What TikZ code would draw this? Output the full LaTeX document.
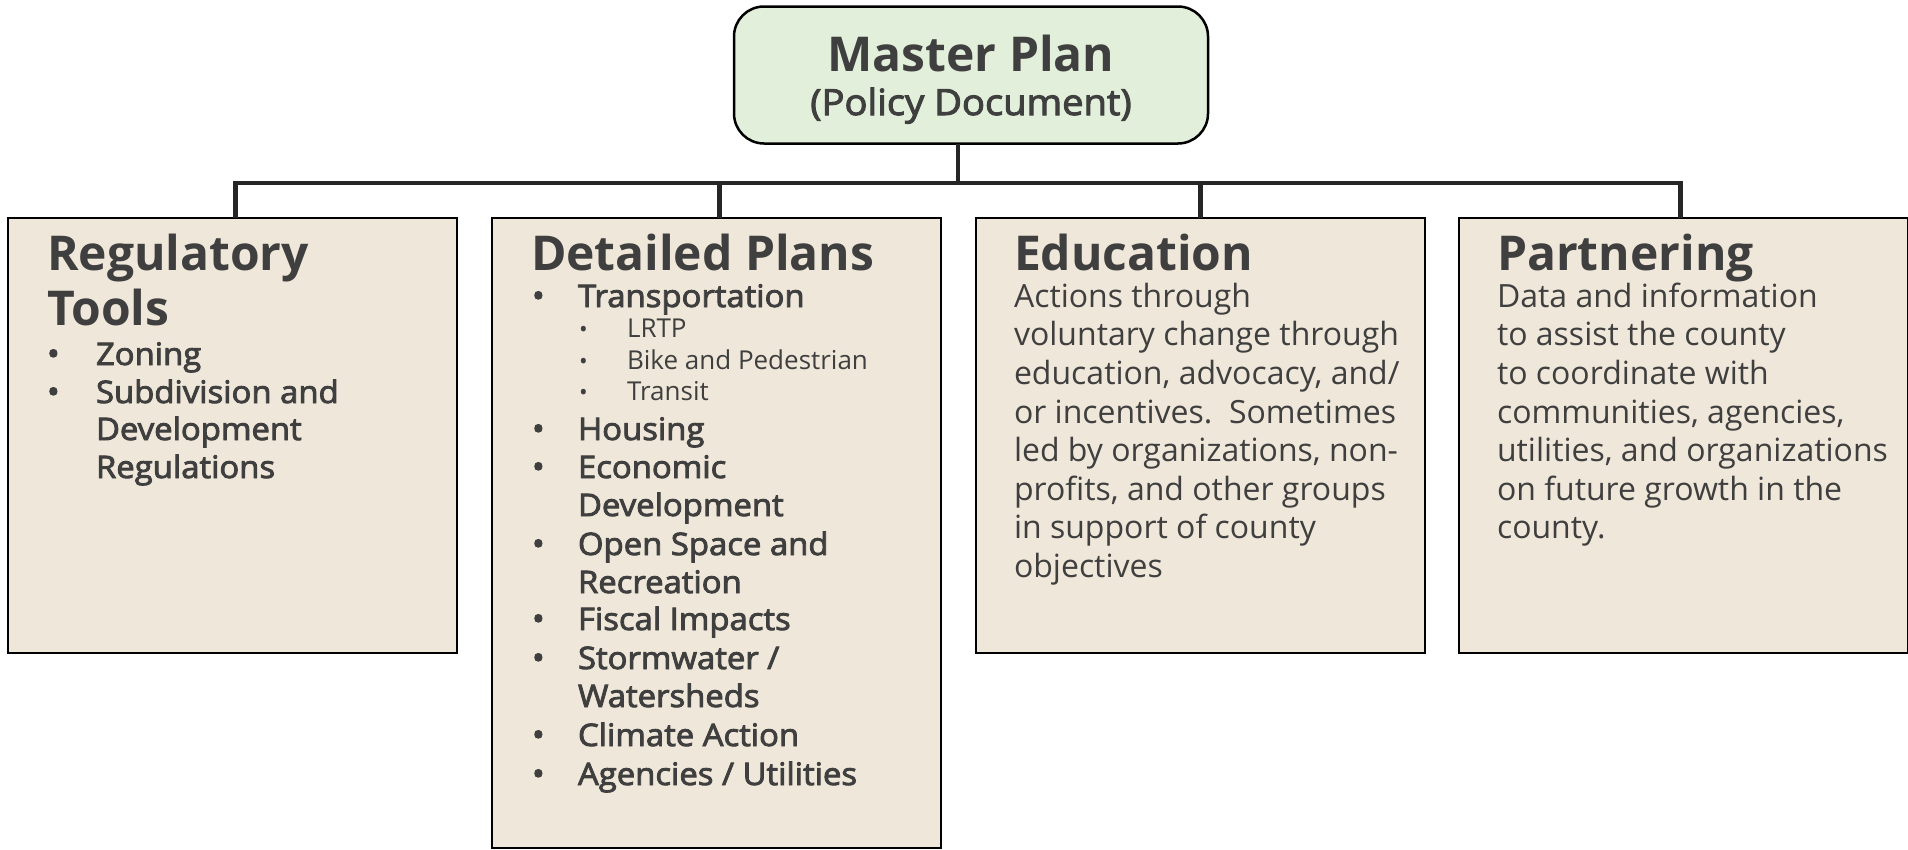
\documentclass[tikz,border=0pt]{standalone}
\usepackage{fontspec}
\setmainfont{Open Sans}
\newfontfamily\semib{Open Sans}[FakeBold=2.8, FakeStretch=1.06]
\definecolor{ink}{HTML}{3F3F3F}
\definecolor{greenfill}{HTML}{E2EFDA}
\definecolor{beige}{HTML}{EFE7D9}
\definecolor{linegray}{HTML}{262626}
\tikzset{
  every node/.style={inner sep=0pt, outer sep=0pt, text=ink},
  masterbox/.style={draw=black, line width=2.5pt, fill=greenfill, rounded corners=30pt,
    minimum width=474pt, minimum height=137pt},
  branchbox/.style={draw=black, line width=2.5pt, fill=beige, minimum width=449pt, anchor=north west},
  conn/.style={draw=linegray, line width=4.5pt},
  hd/.style={anchor=base west, font=\fontsize{48}{55}\selectfont\bfseries},
  item/.style={anchor=base west, font=\fontsize{31}{38}\semib},
  sub/.style={anchor=base west, font=\fontsize{26}{30}\selectfont},
  body/.style={anchor=base west, font=\fontsize{32}{38}\selectfont},
  dot/.style={anchor=base west, font=\fontsize{32}{38}\semib},
  subdot/.style={anchor=base west, font=\fontsize{23}{30}\selectfont},
}
\begin{document}
\begin{tikzpicture}[x=1pt,y=-1pt]
\useasboundingbox (0,0) rectangle (1908,849);

% top box
\node[masterbox] (mp) at (971,75) {};
\node[anchor=base, font=\fontsize{48}{54}\selectfont\bfseries] (mpA) at (971,71) {Master Plan};
\node[anchor=base, font=\fontsize{36}{40}\semib] (mpB) at (971,115) {(Policy Document)};

% branch boxes
\node[branchbox, minimum height=435pt] (reg) at (8,218) {};
\node[branchbox, minimum height=630pt] (det) at (492,218) {};
\node[branchbox, minimum height=435pt] (edu) at (976,218) {};
\node[branchbox, minimum height=435pt] (part) at (1459,218) {};

% connectors
\coordinate (tr) at (958,183);
\draw[conn] (mp.south -| tr) -- (tr);
\draw[conn] ([xshift=3pt]reg.north) -- ([xshift=3pt]reg.north |- tr)
  -- ([xshift=-3pt]part.north |- tr) -- ([xshift=-3pt]part.north);
\draw[conn] ([xshift=3pt]det.north) -- ([xshift=3pt]det.north |- tr);
\draw[conn] (edu.north) -- (edu.north |- tr);

% Regulatory Tools
\node[hd] (regH1) at (47,270) {Regulatory};
\node[hd] (regH2) at (47,325) {Tools};
\node[dot] (regD1) at (47,365) {•};
\node[item] (regI1) at (96,365) {Zoning};
\node[dot] (regD2) at (47,403) {•};
\node[item] (regI2) at (96,403) {Subdivision and};
\node[item] (regI3) at (96,440) {Development};
\node[item] (regI4) at (96,478) {Regulations};

% Detailed Plans
\node[hd] (detH) at (531,270) {Detailed Plans};
\node[dot] (detD1) at (532,307) {•};
\node[item] (detI1) at (578,307) {Transportation};
\node[subdot] (detS1d) at (579,337) {•};
\node[sub] (detS1) at (627,337) {LRTP};
\node[subdot] (detS2d) at (579,369) {•};
\node[sub] (detS2) at (627,369) {Bike and Pedestrian};
\node[subdot] (detS3d) at (579,400) {•};
\node[sub] (detS3) at (627,400) {Transit};
\node[dot] (detD2) at (532,440) {•};
\node[item] (detI2) at (578,440) {Housing};
\node[dot] (detD3) at (532,478) {•};
\node[item] (detI3) at (578,478) {Economic};
\node[item] (detI3b) at (578,516) {Development};
\node[dot] (detD4) at (532,555) {•};
\node[item] (detI4) at (578,555) {Open Space and};
\node[item] (detI4b) at (578,593) {Recreation};
\node[dot] (detD5) at (532,630) {•};
\node[item] (detI5) at (578,630) {Fiscal Impacts};
\node[dot] (detD6) at (532,669) {•};
\node[item] (detI6) at (578,669) {Stormwater /};
\node[item] (detI6b) at (578,707) {Watersheds};
\node[dot] (detD7) at (532,746) {•};
\node[item] (detI7) at (578,746) {Climate Action};
\node[dot] (detD8) at (532,785) {•};
\node[item] (detI8) at (578,785) {Agencies / Utilities};

% Education
\node[hd] (eduH) at (1014,270) {Education};
\node[body] (eduL1) at (1014,307) {Actions through};
\node[body] (eduL2) at (1014,345) {voluntary change through};
\node[body] (eduL3) at (1014,384) {education, advocacy, and/};
\node[body] (eduL4) at (1014,423) {or incentives.\ \ Sometimes};
\node[body] (eduL5) at (1014,461) {led by organizations, non-};
\node[body] (eduL6) at (1014,500) {profits, and other groups};
\node[body] (eduL7) at (1014,538) {in support of county};
\node[body] (eduL8) at (1014,577) {objectives};

% Partnering
\node[hd] (partH) at (1497,270) {Partnering};
\node[body] (partL1) at (1497,307) {Data and information};
\node[body] (partL2) at (1497,345) {to assist the county};
\node[body] (partL3) at (1497,384) {to coordinate with};
\node[body] (partL4) at (1497,423) {communities, agencies,};
\node[body] (partL5) at (1497,461) {utilities, and organizations};
\node[body] (partL6) at (1497,500) {on future growth in the};
\node[body] (partL7) at (1497,538) {county.};
\end{tikzpicture}
\end{document}
